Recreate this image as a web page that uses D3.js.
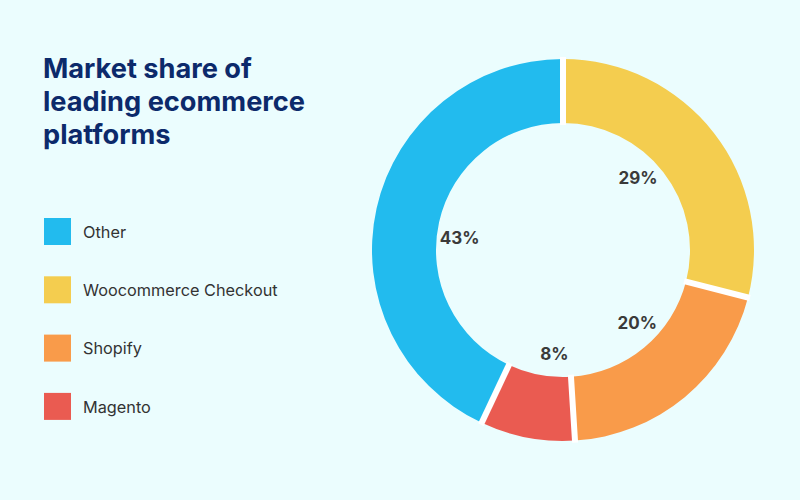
<!DOCTYPE html>
<html>
<head>
<meta charset="utf-8">
<script src="https://cdn.jsdelivr.net/npm/d3@7"></script>
<style>
  html, body { margin: 0; padding: 0; background: #ebfdfe; }
  svg { display: block; font-family: Inter, "Noto Sans", sans-serif; }
</style>
</head>
<body>
<div id="chart"></div>
<script>
// 数据
const platforms = ['Woocommerce Checkout', 'Shopify', 'Magento', 'Other'];
const shares = [29, 20, 8, 43];
const colors = ['#f4cd4f', '#f99b4a', '#ea5b51', '#22bbee'];
const legendOrder = ['Other', 'Woocommerce Checkout', 'Shopify', 'Magento'];
const titleLines = ['Market share of', 'leading ecommerce', 'platforms'];

const W = 800, H = 500;
const cx = 563, cy = 250;
const outerR = 191, innerR = 127;

const svg = d3.select('#chart').append('svg')
    .attr('width', W)
    .attr('height', H);

svg.append('rect').attr('width', W).attr('height', H).attr('fill', '#ebfdfe');

const color = d3.scaleOrdinal().domain(platforms).range(colors);

// 标题
svg.append('g')
    .selectAll('text')
    .data(titleLines)
    .join('text')
    .attr('x', 43)
    .attr('y', (d, i) => 78 + i * 33)
    .style('font-size', '27.2px')
    .style('font-weight', 700)
    .style('fill', '#0c2a6b')
    .text(d => d);

// 图例
const legend = svg.append('g')
    .selectAll('g')
    .data(legendOrder)
    .join('g')
    .attr('transform', (d, i) => `translate(44, ${218 + i * 58.3})`);

legend.append('rect')
    .attr('width', 27)
    .attr('height', 27)
    .attr('fill', d => color(d));

legend.append('text')
    .attr('x', 39)
    .attr('y', 14)
    .attr('dy', '0.36em')
    .style('font-size', '16.3px')
    .style('fill', '#333')
    .text(d => d);

// 环形图
const pie = d3.pie().sort(null).value(d => d.value);
const arcs = pie(platforms.map((p, i) => ({ name: p, value: shares[i] })));

const arc = d3.arc().innerRadius(innerR).outerRadius(outerR);
const labelR = 104;
const labelShift = -6 * Math.PI / 180;  // 标签略微逆时针偏移

const g = svg.append('g').attr('transform', `translate(${cx}, ${cy})`);

g.selectAll('path.slice')
    .data(arcs)
    .join('path')
    .attr('class', 'slice')
    .attr('d', arc)
    .attr('fill', d => color(d.data.name));

// 扇区之间的白色分隔
g.selectAll('line.sep')
    .data(arcs)
    .join('line')
    .attr('class', 'sep')
    .attr('x1', d => Math.sin(d.startAngle) * (innerR - 2))
    .attr('y1', d => -Math.cos(d.startAngle) * (innerR - 2))
    .attr('x2', d => Math.sin(d.startAngle) * (outerR + 2))
    .attr('y2', d => -Math.cos(d.startAngle) * (outerR + 2))
    .attr('stroke', '#fff')
    .attr('stroke-width', 6);

g.selectAll('text.pct')
    .data(arcs)
    .join('text')
    .attr('class', 'pct')
    .attr('transform', d => {
        const a = (d.startAngle + d.endAngle) / 2 + labelShift;
        return `translate(${Math.sin(a) * labelR}, ${-Math.cos(a) * labelR})`;
    })
    .attr('text-anchor', 'middle')
    .attr('dy', '0.36em')
    .style('font-size', '17px')
    .style('font-weight', 700)
    .style('fill', '#3a3a3a')
    .text(d => d.data.value + '%');
</script>
</body>
</html>
